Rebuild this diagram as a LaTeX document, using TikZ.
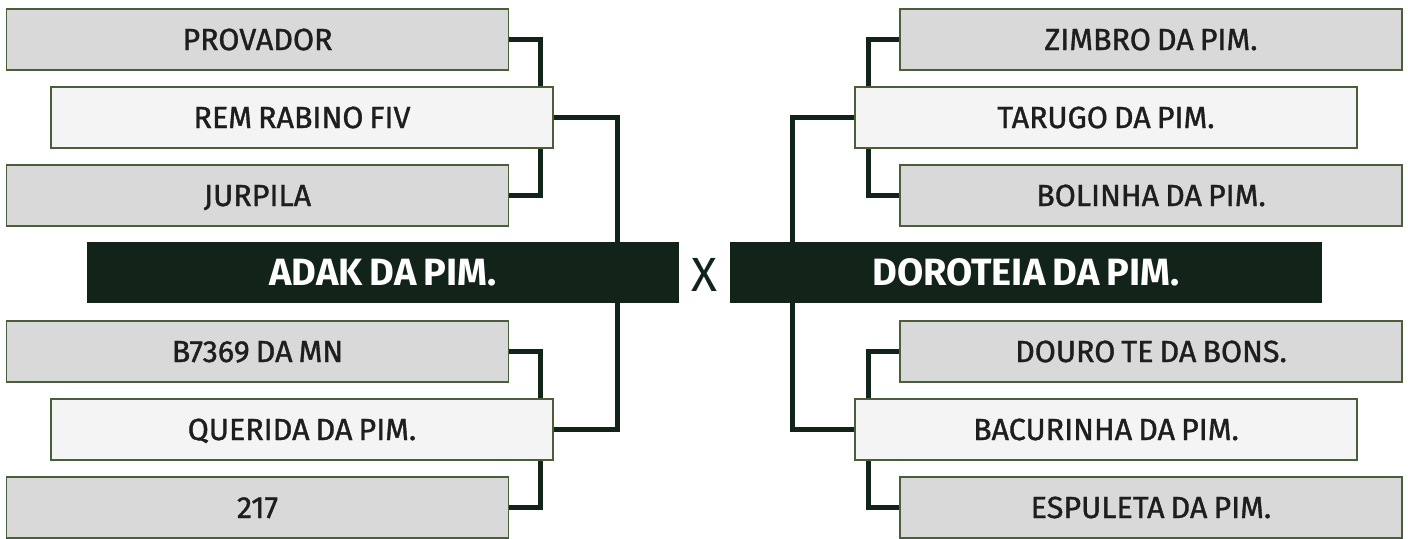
\documentclass[tikz,border=0pt]{standalone}
\usepackage{fontspec}
\setmainfont{Fira Sans}
\newfontfamily\entryfont{Fira Sans}[FakeBold=1.2,WordSpace=0.75]
\newfontfamily\finalfont{Fira Sans Bold}[WordSpace=0.8]
\usepackage{tikz}
\usetikzlibrary{positioning,backgrounds}
\definecolor{headgreen}{HTML}{12241A}
\definecolor{boxline}{HTML}{4B5E3B}
\definecolor{boxgray}{HTML}{D9D9D9}
\definecolor{boxlight}{HTML}{F4F4F4}
\definecolor{txtdark}{HTML}{1E1E1E}

\begin{document}
\begin{tikzpicture}[
		x=1pt,y=-1pt,
		entry/.style={
			draw=boxline,
			line width=1.5pt,
			fill=boxgray,
			minimum width=502pt,
			minimum height=61pt,
			inner sep=0pt,
			text=txtdark,
			text height=21pt,
			text depth=0pt,
			font=\entryfont\fontsize{30.5}{30}\selectfont
		},
		mid/.style={entry,fill=boxlight},
		finalist/.style={
			fill=headgreen,
			minimum width=592pt,
			minimum height=61pt,
			inner sep=0pt,
			text=white,
			text height=26pt,
			text depth=0pt,
			font=\finalfont\fontsize{38}{38}\selectfont
		},
		link/.style={draw=headgreen,line width=5pt,line join=miter}
		]
		
		% left half
		\node[entry] (provador) at (257.5,39.5) {PROVADOR};
		\node[mid]   (rem)      at (302,117.5)  {REM RABINO FIV};
		\node[entry] (jurpila)  at (257.5,195.5) {JURPILA};
		\node[finalist] (adak)  at (383,272.5)  {ADAK DA PIM.};
		\node[entry] (b7369)    at (257.5,351.5) {B7369 DA MN};
		\node[mid]   (querida)  at (302,429.5)  {QUERIDA DA PIM.};
		\node[entry] (n217)     at (257.5,507.5) {217};
		
		\node[text=headgreen,font=\fontsize{48}{48}\selectfont,inner sep=0pt] (versus) at (704.5,275) {X};
		
		% right half
		\node[entry] (zimbro)    at (1151,39.5)  {ZIMBRO DA PIM.};
		\node[mid]   (tarugo)    at (1106,117.5) {TARUGO DA PIM.};
		\node[entry] (bolinha)   at (1151,195.5) {BOLINHA DA PIM.};
		\node[finalist] (doroteia) at (1026,272.5) {DOROTEIA DA PIM.};
		\node[entry] (douro)     at (1151,351.5) {DOURO TE DA BONS.};
		\node[mid]   (bacurinha) at (1106,429.5) {BACURINHA DA PIM.};
		\node[entry] (espuleta)  at (1151,507.5) {ESPULETA DA PIM.};
		
		\begin{scope}[on background layer]
			\draw[link] (provador.east) -- ++(31,0) |- (jurpila.east);
			\draw[link] (b7369.east) -- ++(31,0) |- (n217.east);
			\draw[link] (rem.east) -- ++(64,0) |- (querida.east);
			\draw[link] (zimbro.west) -- ++(-31,0) |- (bolinha.west);
			\draw[link] (douro.west) -- ++(-31,0) |- (espuleta.west);
			\draw[link] (tarugo.west) -- ++(-62,0) |- (bacurinha.west);
		\end{scope}
		
		\useasboundingbox (0,0) rectangle (1408,538);
		
	\end{tikzpicture}
\end{document}
